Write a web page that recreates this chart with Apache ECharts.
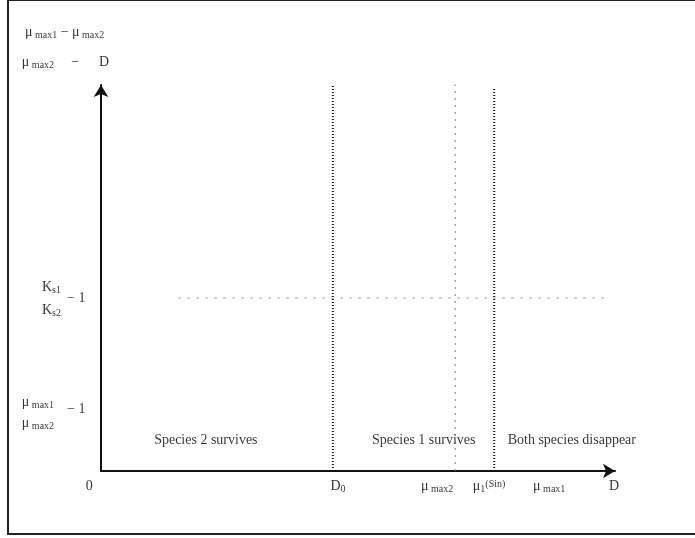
<!DOCTYPE html>
<html><head><meta charset="utf-8">
<script src="https://cdn.jsdelivr.net/npm/echarts@6/dist/echarts.min.js"></script>
<style>html,body{margin:0;padding:0;background:#fff}#c{width:695px;height:538px}</style>
</head><body><div id="c"></div>
<script>
// x-axis tick labels (D axis) and their positions in D units (0..100 = axis length)
const xTickLabels = ['0', 'D{s|0}', 'μ{s| max2}', 'μ{s|1}{sup|(Sin)}', 'μ{s| max1}', 'D'];
const xTickValues = [-2.3, 46.1, 65.4, 75.5, 87.2, 99.8];
const xTickLevel = -3.9;

// region labels
const regionLabels = ['Species 2 survives', 'Species 1 survives', 'Both species disappear'];
const regionCenters = [20.4, 62.8, 91.6];
const regionLevel = 8.0;

// vertical boundaries
const boundaryNames = ['D0', 'μmax2', 'μ1(Sin)'];
const boundaryValues = [45.1, 68.9, 76.5];
const boundaryTops = [100, 100.8, 99.2];

// horizontal threshold Ks1/Ks2 - 1
const ksThreshold = 44.8;
const ksThresholdRange = [15.0, 98.1];

// y-axis labels (text, x, y in axis units)
const yLabelTexts = ['μ{s| max1} − μ{s| max2}', 'μ{s| max2}', '−', 'D',
  'K{s|s1}', 'K{s|s2}', '− 1',
  'μ{s| max1}', 'μ{s| max2}', '− 1'];
const yLabelX = [-14.8, -15.4, -5.8, -0.4, -11.5, -11.5, -6.6, -15.4, -15.4, -6.6];
const yLabelY = [113.7, 106.0, 106.0, 106.0, 47.7, 41.7, 44.8, 17.9, 12.4, 16.1];

const FONT = 'Liberation Serif';
const rich = {
  s: {fontFamily: FONT, fontSize: 10, color: '#000', padding: [7, 0, 0, 0]},
  sup: {fontFamily: FONT, fontSize: 10, color: '#000', padding: [0, 0, 4, 0]}
};

const chart = echarts.init(document.getElementById('c'));

const series = [];
boundaryValues.forEach((v, i) => {
  series.push({
    type: 'line', name: boundaryNames[i], symbol: 'none', silent: true,
    data: [[v, 0], [v, boundaryTops[i]]],
    lineStyle: i === 1
      ? {color: '#777', width: 1, type: [2, 5]}
      : {color: '#111', width: 2, type: [1, 2]}
  });
});
series.push({
  type: 'line', name: 'Ks', symbol: 'none', silent: true,
  data: [[ksThresholdRange[0], ksThreshold], [ksThresholdRange[1], ksThreshold]],
  lineStyle: {color: '#aaa', width: 1, type: [3, 6]}
});

function labelSeries(texts, xs, ys, align) {
  return {
    type: 'scatter', symbolSize: 0, clip: false, silent: true,
    data: texts.map((t, i) => ({value: [xs[i], ys[i]], name: t})),
    label: {
      show: true, position: 'inside', align: align, verticalAlign: 'middle',
      fontFamily: FONT, fontSize: 14, color: '#000',
      formatter: p => p.name, rich: rich
    }
  };
}
series.push(labelSeries(xTickLabels, xTickValues, xTickValues.map(() => xTickLevel), 'center'));
series.push(labelSeries(regionLabels, regionCenters, regionCenters.map(() => regionLevel), 'center'));
series.push(labelSeries(yLabelTexts, yLabelX, yLabelY, 'left'));

chart.setOption({
  animation: false,
  backgroundColor: '#fff',
  grid: {left: 101, right: 80, top: 85, bottom: 67},
  xAxis: {
    type: 'value', min: 0, max: 100,
    axisLine: {show: true, onZero: false, symbol: ['none', 'arrow'], symbolSize: [11, 12],
      lineStyle: {color: '#111', width: 2}},
    axisTick: {show: false}, axisLabel: {show: false}, splitLine: {show: false}
  },
  yAxis: {
    type: 'value', min: 0, max: 100,
    axisLine: {show: true, onZero: false, symbol: ['none', 'arrow'], symbolSize: [11, 12],
      lineStyle: {color: '#111', width: 2}},
    axisTick: {show: false}, axisLabel: {show: false}, splitLine: {show: false}
  },
  graphic: [{
    type: 'rect', shape: {x: 8, y: 0, width: 700, height: 534},
    style: {fill: 'none', stroke: '#222', lineWidth: 2}, silent: true, z: 100
  }],
  series: series
});
</script></body></html>
